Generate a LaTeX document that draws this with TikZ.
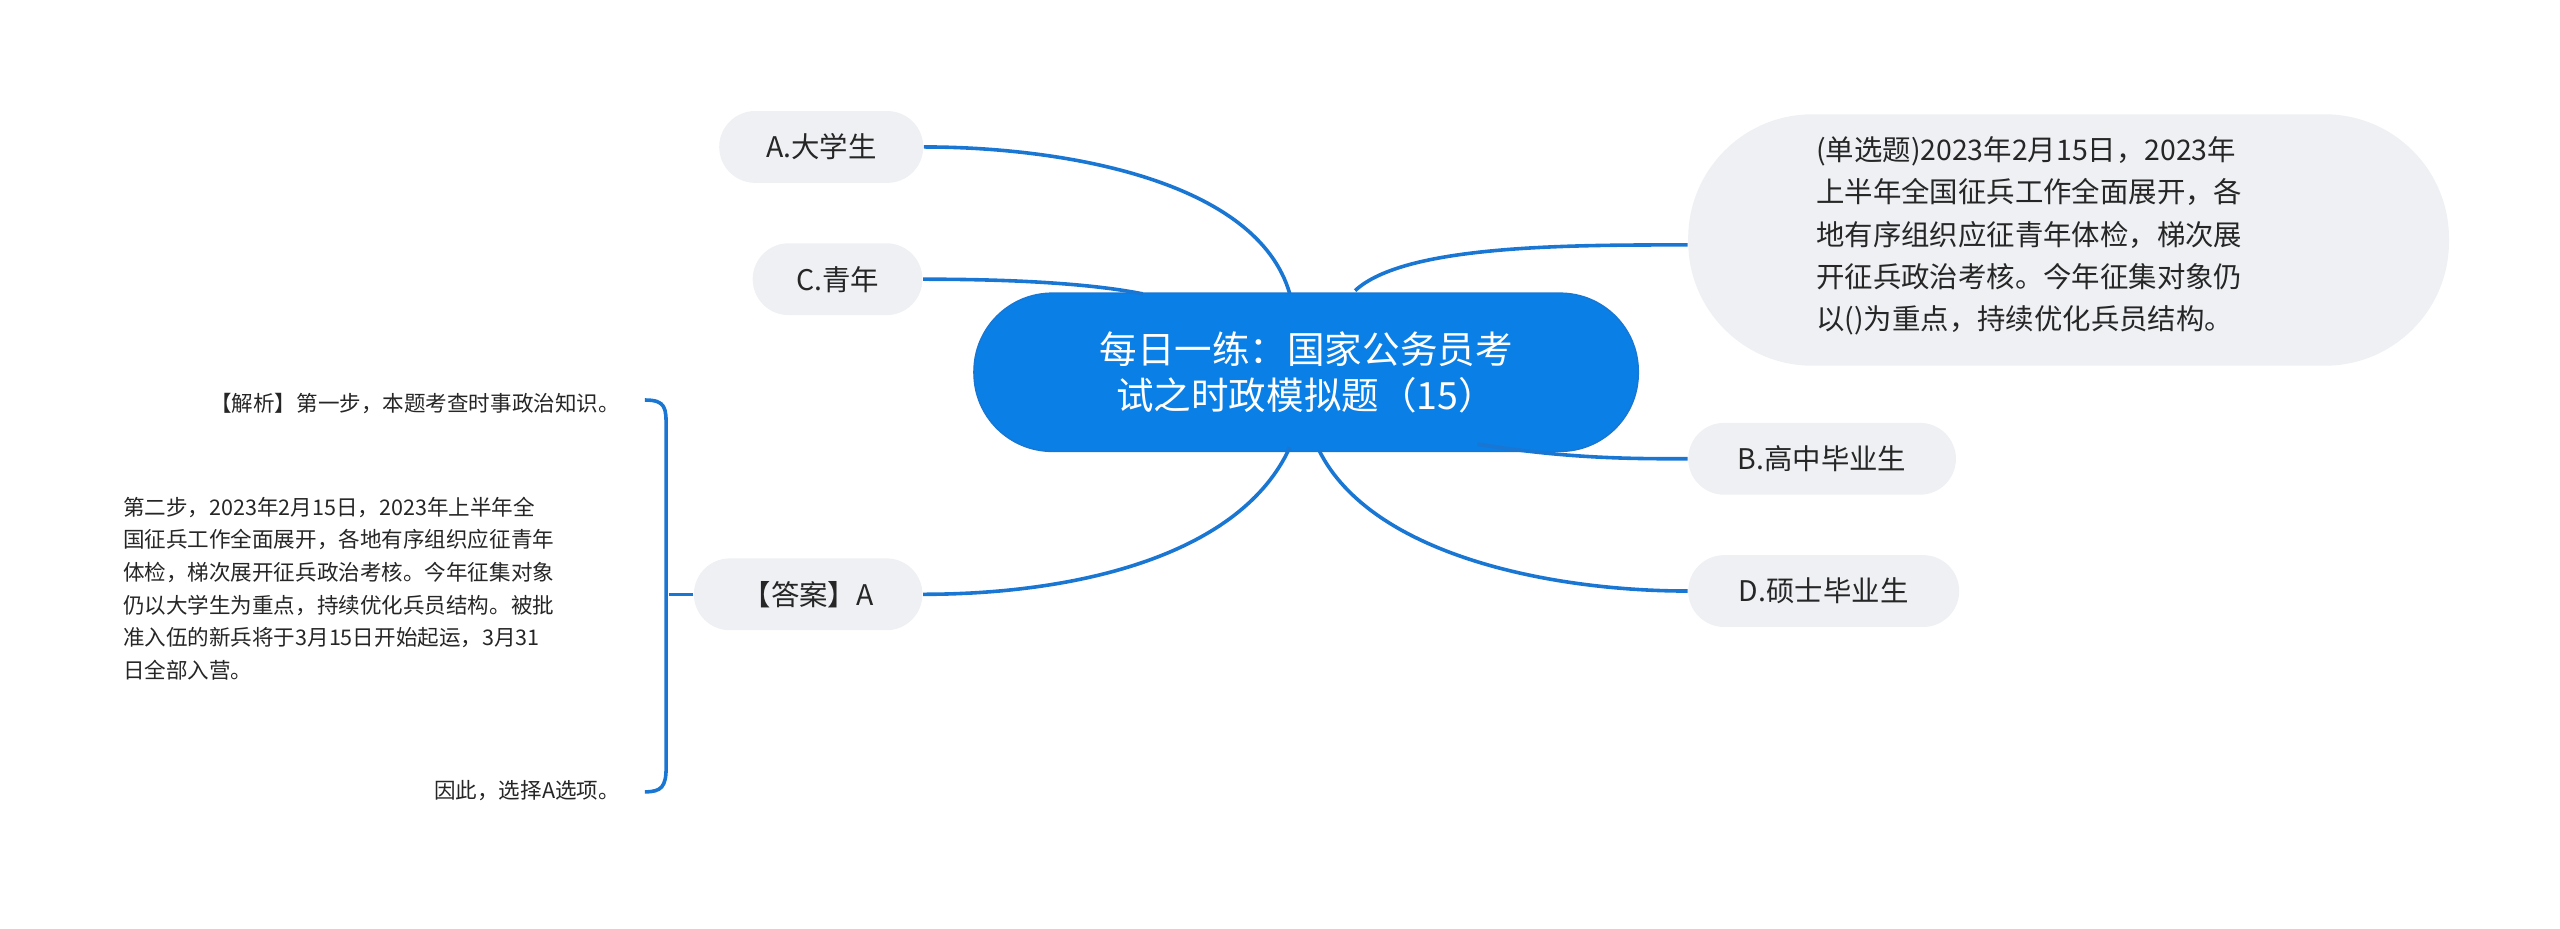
\documentclass[tikz,border=0pt]{standalone}
\usepackage{fontspec}
\setmainfont{Noto Sans CJK SC}
\definecolor{cblue}{HTML}{0A7FE6}
\definecolor{lblue}{HTML}{1976D2}
\definecolor{lgray}{HTML}{EEF0F3}
\begin{document}
\begin{tikzpicture}[x=0.5pt,y=-0.5pt,
 leaf/.style={fill=lgray,rounded corners=11pt,inner sep=0pt,font=\fontsize{8.7pt}{10pt}\selectfont,text=black!85},
 conn/.style={draw=lblue,line width=1.1pt},
 note/.style={font=\fontsize{6.6pt}{10pt}\selectfont,text=black!85,inner sep=0pt}]
\useasboundingbox (0,0) rectangle (1568,569);
\node[fill=cblue,draw=lblue,rounded corners=24pt,minimum width=203.5pt,minimum height=48.5pt,text=white,align=center,font=\fontsize{11.5pt}{14pt}\selectfont] (c) at (800,228) {每日一练：国家公务员考\\试之时政模拟题（15）};
\node[leaf,minimum width=62.5pt,minimum height=22pt] (a) at (503,90) {A.大学生};
\node[leaf,minimum width=52pt,minimum height=22pt] (cc) at (513,171) {C.青年};
\node[leaf,minimum width=70pt,minimum height=22pt] (ans) at (495,364) {【答案】A};
\node[fill=lgray,rounded corners=38pt,minimum width=233pt,minimum height=77pt] (q) at (1267,147) {};
\node[font=\fontsize{8.7pt}{13pt}\selectfont,align=left,text=black!85,anchor=north west,inner sep=0pt] (qt) at (1112,83) {(单选题)2023年2月15日，2023年\\上半年全国征兵工作全面展开，各\\地有序组织应征青年体检，梯次展\\开征兵政治考核。今年征集对象仍\\以()为重点，持续优化兵员结构。};
\node[leaf,minimum width=82pt,minimum height=22pt] (b) at (1116,281) {B.高中毕业生};
\node[leaf,minimum width=83pt,minimum height=22pt] (d) at (1117,362) {D.硕士毕业生};
\coordinate (ca) at (790,180);
\coordinate (cq) at (830,178);
\coordinate (cb) at (905,272);
\coordinate (cd) at (808,276);
\coordinate (cn) at (790,274);
\coordinate (cc1) at (700,180);
\draw[conn] (ca) .. controls (770,110) and (650,90) .. (a.east);
\draw[conn] (cc1) .. controls (660,172) and (600,171) .. (cc.east);
\draw[conn] (cn) .. controls (760,340) and (660,364) .. (ans.east);
\draw[conn] (cq) .. controls (860,150) and (960,150) .. (q.west|-0,150);
\draw[conn] (cb) .. controls (960,281) and (1000,281) .. (b.west);
\draw[conn] (cd) .. controls (840,340) and (950,362) .. (d.west);
% brace
\coordinate (br) at (410,364);
\draw[conn] (ans.west) -- (br);
\draw[conn] (395,245) .. controls (408,245) and (408,250) .. (408,262) -- (408,470) .. controls (408,482) and (405,485) .. (395,485);
\node[note,anchor=east] (n1) at (380,247) {【解析】第一步，本题考查时事政治知识。};
\node[note,anchor=north west,align=left] (n2) at (75,304) {第二步，2023年2月15日，2023年上半年全\\国征兵工作全面展开，各地有序组织应征青年\\体检，梯次展开征兵政治考核。今年征集对象\\仍以大学生为重点，持续优化兵员结构。被批\\准入伍的新兵将于3月15日开始起运，3月31\\日全部入营。};
\node[note,anchor=east] (n3) at (380,484) {因此，选择A选项。};
\end{tikzpicture}
\end{document}
